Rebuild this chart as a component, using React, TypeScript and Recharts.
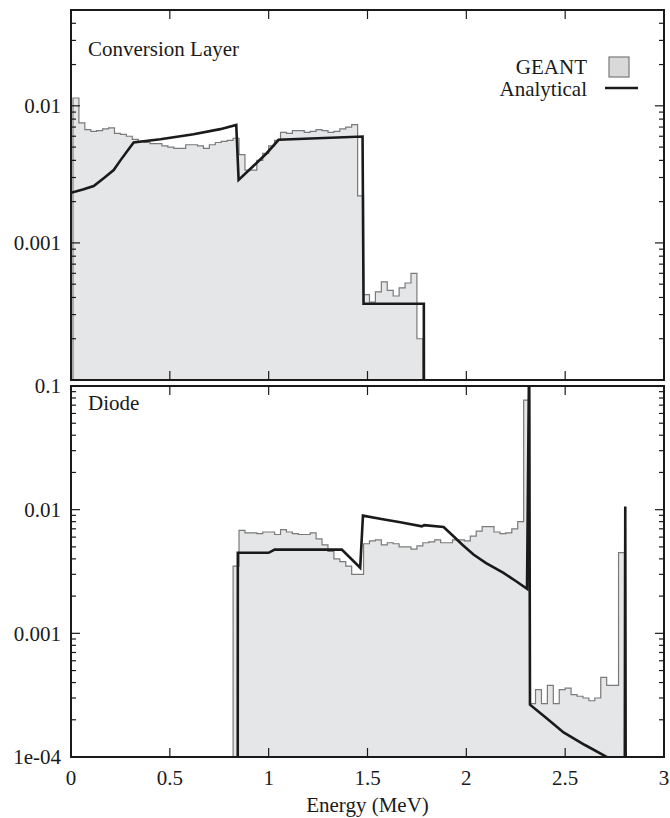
import { ComposedChart, Area, Line, XAxis, YAxis, ReferenceArea, Customized } from 'recharts'

// ─── Data ─────────────────────────────────────────────────────────────────────

const BIN_WIDTH = 0.03 // MeV
const FLOOR = 1e-6 // stands in for empty bins, falls below the log axis

// GEANT histogram, conversion layer (bins of 0.03 MeV from 0.01 MeV)
const TOP_BIN_START = 0.01
const topGeant = [
  0.0114, 0.0075, 0.0067, 0.0065, 0.0066, 0.0068, 0.0069, 0.0063, 0.0062, 0.006,
  0.0057, 0.0055, 0.0054, 0.0053, 0.0053, 0.0051, 0.005, 0.0049, 0.0049, 0.0052,
  0.0052, 0.0051, 0.0049, 0.0052, 0.0054, 0.0055, 0.0056, 0.0058, 0.0044, 0.0034,
  0.0034, 0.004, 0.0045, 0.0051, 0.0056, 0.0064, 0.0063, 0.0066, 0.0066, 0.0064,
  0.0065, 0.0067, 0.0066, 0.0064, 0.0065, 0.0068, 0.007, 0.0073, 0.0022, 0.00042,
  0.00037, 0.00044, 0.00052, 0.00045, 0.00041, 0.00047, 0.00051, 0.0006, 0.0002,
]

// GEANT histogram, diode (bins of 0.03 MeV from 0.82 MeV)
const BOTTOM_BIN_START = 0.82
const bottomGeant = [
  0.0035, 0.0068, 0.0065, 0.0065, 0.0064, 0.0066, 0.0066, 0.0063, 0.0069, 0.0066,
  0.0064, 0.0063, 0.0063, 0.0065, 0.0058, 0.0052, 0.0046, 0.004, 0.0038, 0.0035,
  0.003, 0.003, 0.0053, 0.0056, 0.0057, 0.0052, 0.0054, 0.0053, 0.005, 0.005,
  0.0048, 0.0051, 0.0054, 0.0055, 0.0057, 0.0054, 0.0054, 0.0057, 0.0057, 0.0056,
  0.0061, 0.0067, 0.0073, 0.0073, 0.0066, 0.0064, 0.0065, 0.007, 0.008, 0.077,
  0.00027, 0.00035, 0.00027, 0.00038, 0.00027, 0.00035, 0.00036, 0.00032, 0.00031, 0.0003,
  0.000285, 0.0003, 0.00044, 0.00038, 0.00038, 0.0045,
]

// Analytical curve, conversion layer
const topAnalyticalE = [
  0, 0.06, 0.115, 0.17, 0.216, 0.25, 0.283, 0.317, 0.452, 0.62, 0.755, 0.836,
  0.848, 0.916, 0.99, 1.05, 1.475, 1.48, 1.785, 1.787,
]
const topAnalyticalV = [
  0.00232, 0.00245, 0.0026, 0.003, 0.0034, 0.004, 0.00465, 0.0054, 0.00571, 0.00621, 0.00676, 0.00726,
  0.00288, 0.00356, 0.00451, 0.00565, 0.00597, 0.00036, 0.00036, FLOOR,
]

// Analytical curve, diode
const bottomAnalyticalE = [
  0.843, 0.844, 1.0, 1.03, 1.37, 1.463, 1.477, 1.57, 1.666, 1.775, 1.787, 1.885, 1.935, 1.98, 2.036, 2.1,
  2.188, 2.25, 2.307, 2.318, 2.322, 2.4, 2.492, 2.6, 2.711, 2.75, 2.8, 2.804, 2.808,
]
const bottomAnalyticalV = [
  FLOOR, 0.00448, 0.00448, 0.00475, 0.00475, 0.00339, 0.00895, 0.0084, 0.0079, 0.00733, 0.0075, 0.00725, 0.0061, 0.0052, 0.00434, 0.0037,
  0.00308, 0.00265, 0.00229, 0.2, 0.000265, 0.00021, 0.000158, 0.000125, 0.0001, FLOOR, FLOOR, 0.0106, FLOOR,
]

const xTicks = [0, 0.5, 1, 1.5, 2, 2.5, 3]
const xTickLabels = ['0', '0.5', '1', '1.5', '2', '2.5', '3']

const topDomain: [number, number] = [1e-4, 0.05]
const bottomDomain: [number, number] = [1e-4, 0.1]
const decades = [1e-4, 1e-3, 1e-2, 1e-1]
const topYLabels: Record<string, string> = { '0.001': '0.001', '0.01': '0.01' }
const bottomYLabels: Record<string, string> = { '0.1': '0.1', '0.01': '0.01', '0.001': '0.001', '0.0001': '1e-04' }

// ─── Helpers ─────────────────────────────────────────────────────────────────

const W = 670
const LEFT = 71
const RIGHT = 664
const PLOT_W = RIGHT - LEFT
const INK = '#1a1a1a'
const FONT = '"Liberation Serif", "Times New Roman", "DejaVu Serif", serif'
const FONT_SIZE = 21
const textStyle = { fontFamily: FONT, fontSize: FONT_SIZE, fill: INK }

function logTicks([lo, hi]: [number, number]) {
  const out: number[] = []
  decades.forEach((d) => {
    for (let m = 1; m <= 9; m++) {
      const v = +(d * m).toPrecision(3)
      if (v >= lo * 0.999 && v <= hi * 1.001) out.push(v)
    }
  })
  return out
}

const isMajor = (v: number) => Math.abs(Math.log10(v) - Math.round(Math.log10(v))) < 1e-6

function toHistogram(start: number, values: number[]) {
  return [
    { x: start, y: FLOOR },
    ...values.map((v, i) => ({ x: +(start + i * BIN_WIDTH).toFixed(4), y: v > 0 ? v : FLOOR })),
    { x: +(start + values.length * BIN_WIDTH).toFixed(4), y: FLOOR },
  ]
}

const zip = (e: number[], v: number[]) => e.map((x, i) => ({ x, y: v[i] }))

function yTick(labels: Record<string, string>) {
  return (props: any) => {
    const { x, y, payload } = props
    const v = payload.value as number
    const len = isMajor(v) ? 9 : 5
    const label = labels[String(v)]
    return (
      <g>
        <line x1={x} x2={x + len} y1={y} y2={y} stroke={INK} strokeWidth={1.2} />
        <line x1={x + PLOT_W} x2={x + PLOT_W - len} y1={y} y2={y} stroke={INK} strokeWidth={1.2} />
        {label && (
          <text x={x - 10} y={y} dy="0.35em" textAnchor="end" style={textStyle}>
            {label}
          </text>
        )}
      </g>
    )
  }
}

function xTick(plotH: number, withLabels: boolean) {
  return (props: any) => {
    const { x, y, payload, index } = props
    return (
      <g>
        <line x1={x} x2={x} y1={y} y2={y - 9} stroke={INK} strokeWidth={1.2} />
        <line x1={x} x2={x} y1={y - plotH} y2={y - plotH + 9} stroke={INK} strokeWidth={1.2} />
        {withLabels && (
          <text x={x} y={y + 28} textAnchor="middle" style={textStyle}>
            {xTickLabels[index] ?? String(payload.value)}
          </text>
        )}
      </g>
    )
  }
}

// ─── Panel ────────────────────────────────────────────────────────────────────

interface PanelProps {
  top: number
  height: number
  topPad: number
  bottomPad: number
  domain: [number, number]
  labels: Record<string, string>
  hist: { x: number; y: number }[]
  curve: { x: number; y: number }[]
  xLabels: boolean
  overlay: () => any
}

function Panel({ top, height, topPad, bottomPad, domain, labels, hist, curve, xLabels, overlay }: PanelProps) {
  const plotH = height - topPad - bottomPad
  return (
    <div style={{ position: 'absolute', left: 0, top }}>
      <ComposedChart width={W} height={height} margin={{ top: topPad, right: W - RIGHT, bottom: 0, left: 0 }}>
        <XAxis
          dataKey="x"
          type="number"
          domain={[0, 3]}
          allowDataOverflow
          ticks={xTicks}
          interval={0}
          height={bottomPad}
          tickSize={0}
          tickMargin={0}
          axisLine={false}
          tickLine={false}
          tick={xTick(plotH, xLabels)}
        />
        <YAxis
          type="number"
          scale="log"
          domain={domain}
          allowDataOverflow
          ticks={logTicks(domain)}
          interval={0}
          width={LEFT}
          tickSize={0}
          tickMargin={0}
          axisLine={false}
          tickLine={false}
          tick={yTick(labels)}
        />
        <Area
          data={hist}
          dataKey="y"
          type="stepAfter"
          baseValue="dataMin"
          stroke="#7a7a7a"
          strokeWidth={1.2}
          fill="#e5e6e7"
          fillOpacity={1}
          dot={false}
          activeDot={false}
          isAnimationActive={false}
        />
        <Line
          data={curve}
          dataKey="y"
          type="linear"
          stroke={INK}
          strokeWidth={2.6}
          dot={false}
          activeDot={false}
          isAnimationActive={false}
        />
        <ReferenceArea
          x1={0}
          x2={3}
          y1={domain[0]}
          y2={domain[1]}
          fill="none"
          stroke={INK}
          strokeWidth={2}
          ifOverflow="visible"
        />
        <Customized component={overlay} />
      </ComposedChart>
    </div>
  )
}

// ─── Component ────────────────────────────────────────────────────────────────

export default function App() {
  const topOverlay = () => (
    <g>
      <text x={88} y={56} style={textStyle}>Conversion Layer</text>
      <text x={587} y={74} textAnchor="end" style={textStyle}>GEANT</text>
      <rect x={609} y={57} width={20} height={20} fill="#d9d9d9" stroke="#7a7a7a" strokeWidth={1.2} />
      <text x={587} y={96} textAnchor="end" style={textStyle}>Analytical</text>
      <line x1={605} x2={638} y1={88} y2={88} stroke={INK} strokeWidth={2.6} />
    </g>
  )

  const bottomOverlay = () => (
    <g>
      <text x={88} y={44} style={textStyle}>Diode</text>
      <text x={(LEFT + RIGHT) / 2} y={446} textAnchor="middle" style={textStyle}>Energy (MeV)</text>
    </g>
  )

  return (
    <div style={{ position: 'absolute', left: 0, top: 0, width: W, height: 818, background: '#fff', fontFamily: FONT }}>
      <Panel
        top={0}
        height={384}
        topPad={10}
        bottomPad={4}
        domain={topDomain}
        labels={topYLabels}
        hist={toHistogram(TOP_BIN_START, topGeant)}
        curve={zip(topAnalyticalE, topAnalyticalV)}
        xLabels={false}
        overlay={topOverlay}
      />
      <Panel
        top={366}
        height={452}
        topPad={20}
        bottomPad={61}
        domain={bottomDomain}
        labels={bottomYLabels}
        hist={toHistogram(BOTTOM_BIN_START, bottomGeant)}
        curve={zip(bottomAnalyticalE, bottomAnalyticalV)}
        xLabels={true}
        overlay={bottomOverlay}
      />
    </div>
  )
}
